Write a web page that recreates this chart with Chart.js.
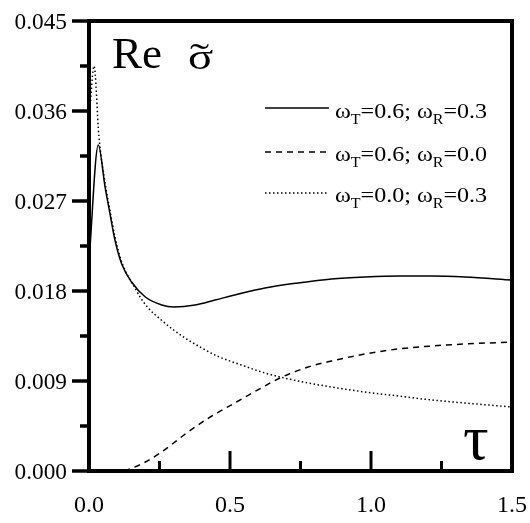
<!DOCTYPE html>
<html>
<head>
<meta charset="utf-8">
<script src="https://cdn.jsdelivr.net/npm/chart.js@4.4.0/dist/chart.umd.min.js"></script>
<style>
html, body { margin: 0; padding: 0; background: #fff; }
#wrap { width: 530px; height: 523px; position: relative; }
</style>
</head>
<body>
<div id="wrap"><canvas id="reSigma"></canvas></div>
<script>
// ωT=0.6; ωR=0.3
const TAU_A = [0, 0.033, 0.057, 0.074, 0.092, 0.116, 0.151, 0.2, 0.258, 0.3, 0.376, 0.447, 0.53, 0.624, 0.741, 0.86, 0.979, 1.1, 1.216, 1.333, 1.5];
const RE_A  = [0.0209, 0.0326, 0.0284, 0.0258, 0.0231, 0.0207, 0.0189, 0.0174, 0.0166, 0.0164, 0.0166, 0.0171, 0.0177, 0.0183, 0.0188, 0.0192, 0.0194, 0.0195, 0.0195, 0.0194, 0.0191];

// ωT=0.6; ωR=0.0
const TAU_B = [0.125, 0.145, 0.2, 0.252, 0.3, 0.346, 0.43, 0.523, 0.617, 0.677, 0.777, 0.86, 0.979, 1.096, 1.216, 1.333, 1.5];
const RE_B  = [0, 0.0002, 0.0009, 0.0018, 0.0028, 0.0038, 0.0054, 0.0069, 0.0084, 0.0093, 0.0104, 0.0110, 0.0117, 0.0122, 0.0125, 0.0127, 0.0129];

// ωT=0.0; ωR=0.3
const TAU_C = [0.003, 0.018, 0.035, 0.057, 0.074, 0.092, 0.116, 0.14, 0.163, 0.181, 0.21, 0.252, 0.3, 0.346, 0.4, 0.454, 0.54, 0.624, 0.741, 0.86, 0.979, 1.096, 1.216, 1.333, 1.5];
const RE_C  = [0.0362, 0.0405, 0.0335, 0.0288, 0.0261, 0.0234, 0.0209, 0.0194, 0.0183, 0.0174, 0.0163, 0.0152, 0.0141, 0.0132, 0.0123, 0.0115, 0.0106, 0.0098, 0.0090, 0.0084, 0.0079, 0.0075, 0.0071, 0.0068, 0.0064];

const LEGEND_WT = ['0.6', '0.6', '0.0'];
const LEGEND_WR = ['0.3', '0.0', '0.3'];

const X_MAJOR = [0, 0.5, 1.0, 1.5];
const X_LABELS = ['0.0', '0.5', '1.0', '1.5'];
const X_MINOR = [0.25, 0.75, 1.25];
const Y_MAJOR = [0, 0.009, 0.018, 0.027, 0.036, 0.045];
const Y_LABELS = ['0.000', '0.009', '0.018', '0.027', '0.036', '0.045'];
const Y_MINOR = [0.0045, 0.0135, 0.0225, 0.0315, 0.0405];

const SERIF = '"Liberation Serif", "DejaVu Serif", serif';
const DASHES = [[], [6, 5], [1.5, 2.5]];

function pts(xs, ys) {
    return xs.map((x, i) => ({ x: x, y: ys[i] }));
}

// text with optional horizontal stretch
function stretched(ctx, text, x, y, align, sx) {
    const w = ctx.measureText(text).width * sx;
    const x0 = align === 'right' ? x - w : align === 'center' ? x - w / 2 : x;
    ctx.save();
    ctx.translate(x0, y);
    ctx.scale(sx, 1);
    ctx.textAlign = 'left';
    ctx.fillText(text, 0, 0);
    ctx.restore();
}

function seg(ctx, x1, y1, x2, y2) {
    ctx.beginPath();
    ctx.moveTo(x1, y1);
    ctx.lineTo(x2, y2);
    ctx.stroke();
}

// ω_T=..; ω_R=.. with subscripts, fitted to a given width
function legendText(ctx, x, y, wT, wR, width) {
    const big = '21px ' + SERIF, small = '14px ' + SERIF;
    const parts = [
        ['ω', big, 0], ['T', small, 6], ['=' + wT + '; ', big, 0],
        ['ω', big, 0], ['R', small, 6], ['=' + wR, big, 0]
    ];
    let total = 0;
    parts.forEach(p => { ctx.font = p[1]; total += ctx.measureText(p[0]).width; });
    const sx = width / total;
    ctx.save();
    ctx.translate(x, y);
    ctx.scale(sx, 1);
    ctx.textAlign = 'left';
    let cx = 0;
    parts.forEach(p => {
        ctx.font = p[1];
        ctx.fillText(p[0], cx, p[2]);
        cx += ctx.measureText(p[0]).width;
    });
    ctx.restore();
}

const framePlugin = {
    id: 'frameAndText',
    afterDraw(chart) {
        const ctx = chart.ctx;
        const { left, right, top, bottom } = chart.chartArea;
        const xs = chart.scales.x, ys = chart.scales.y;
        ctx.save();
        ctx.strokeStyle = '#000';
        ctx.fillStyle = '#000';
        ctx.lineCap = 'butt';

        // box
        ctx.lineWidth = 4;
        ctx.strokeRect(left, top, right - left, bottom - top);

        // y ticks point outwards, x ticks point inwards
        ctx.lineWidth = 3.5;
        Y_MAJOR.forEach(v => { const y = ys.getPixelForValue(v); seg(ctx, left - 17, y, left, y); });
        Y_MINOR.forEach(v => { const y = ys.getPixelForValue(v); seg(ctx, left - 9, y, left, y); });
        ctx.lineWidth = 3;
        X_MAJOR.forEach(v => { const x = xs.getPixelForValue(v); seg(ctx, x, bottom, x, bottom - 20); });
        X_MINOR.forEach(v => { const x = xs.getPixelForValue(v); seg(ctx, x, bottom, x, bottom - 10); });

        // tick labels
        ctx.font = '24px ' + SERIF;
        ctx.textBaseline = 'alphabetic';
        Y_MAJOR.forEach((v, i) => {
            stretched(ctx, Y_LABELS[i], 67, ys.getPixelForValue(v) + 8, 'right', 0.97);
        });
        X_MAJOR.forEach((v, i) => {
            stretched(ctx, X_LABELS[i], xs.getPixelForValue(v), 512, 'center', 1);
        });

        // legend
        const rows = [108, 152, 193];
        const base = [117.5, 161, 202];
        chart.data.datasets.forEach((ds, i) => {
            ctx.lineWidth = 1.5;
            ctx.setLineDash(ds.borderDash);
            seg(ctx, 265, rows[i], 329, rows[i]);
            ctx.setLineDash([]);
            legendText(ctx, 335, base[i], LEGEND_WT[i], LEGEND_WR[i], 152);
        });

        // axis titles inside the plot
        ctx.font = '45px ' + SERIF;
        ctx.textAlign = 'left';
        ctx.fillText('Re', 112, 68);
        ctx.font = '36px ' + SERIF;
        stretched(ctx, 'σ', 188, 69, 'left', 1.3);
        stretched(ctx, '˜', 190, 69, 'left', 1.6);
        ctx.font = '64px ' + SERIF;
        ctx.fillText('τ', 463, 459);
        ctx.restore();
    }
};

new Chart(document.getElementById('reSigma'), {
    type: 'line',
    data: {
        datasets: [
            { label: 'A', data: pts(TAU_A, RE_A), borderDash: DASHES[0] },
            { label: 'B', data: pts(TAU_B, RE_B), borderDash: DASHES[1] },
            { label: 'C', data: pts(TAU_C, RE_C), borderDash: DASHES[2] }
        ].map(d => Object.assign(d, {
            borderColor: '#000',
            borderWidth: 1.5,
            pointRadius: 0,
            fill: false,
            cubicInterpolationMode: 'monotone'
        }))
    },
    options: {
        responsive: true,
        maintainAspectRatio: false,
        animation: false,
        layout: { padding: { left: 89, right: 18, top: 21, bottom: 52 } },
        plugins: { legend: { display: false }, tooltip: { enabled: false } },
        scales: {
            x: { type: 'linear', min: 0, max: 1.5, display: false },
            y: { min: 0, max: 0.045, display: false }
        }
    },
    plugins: [framePlugin]
});
</script>
</body>
</html>
